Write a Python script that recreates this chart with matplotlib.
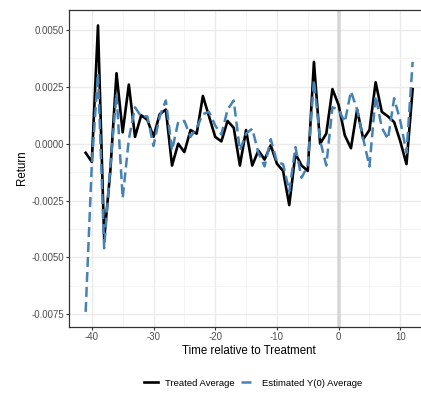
import numpy as np
import matplotlib
matplotlib.use('Agg')
import matplotlib.pyplot as plt
from matplotlib.ticker import MultipleLocator

# time relative to treatment
time = np.arange(-41, 13)

treated_avg = [-0.0004, -0.0008, 0.0052, -0.0042, -0.0012, 0.0031, 0.0005, 0.0026, 0.0003, 0.00125,
               0.00105, 0.0003, 0.0013, 0.0015, -0.00096, 0.0, -0.00037, 0.0006, 0.00044, 0.0021,
               0.0012, 0.0003, 0.0001, 0.001, 0.0007, -0.00096, 0.0006, -0.00096, -0.0003, -0.0007,
               -0.00007, -0.00088, -0.0012, -0.0027, -0.00044, -0.00096, -0.0012, 0.0036, 0.0, 0.00044,
               0.0024, 0.0017, 0.00037, -0.0002, 0.0015, 0.0002, 0.0006, 0.0027, 0.0014, 0.0012,
               0.00095, 0.0001, -0.0009, 0.0024]

estimated_y0 = [-0.0074, -0.0009, 0.0031, -0.0046, -0.0010, 0.0022, -0.0024, 0.0002, 0.0016, 0.0012,
                0.0012, -0.0001, 0.0012, 0.0019, -0.0003, 0.00096, 0.001, 0.0003, 0.0007, 0.0013,
                0.0014, 0.0008, 0.0004, 0.0015, 0.0019, -0.0003, 0.00044, 0.00066, -0.0004, -0.001,
                0.0002, -0.0008, -0.0009, -0.0021, -0.00015, -0.0015, -0.00096, 0.0028, 0.00015, -0.00096,
                0.0016, 0.0015, 0.00095, 0.0023, 0.0015, 0.0002, -0.001, 0.0021, 0.0007, 0.0002,
                0.002, 0.001, -0.0004, 0.0036]

x_ticks = [-40, -30, -20, -10, 0, 10]
y_ticks = [-0.0075, -0.0050, -0.0025, 0.0, 0.0025, 0.0050]
y_tick_labels = ['-0.0075', '-0.0050', '-0.0025', '0.0000', '0.0025', '0.0050']

plt.rcParams['font.family'] = ['Liberation Sans', 'DejaVu Sans']

W, H = 421, 394
fig = plt.figure(figsize=(W / 100, H / 100), dpi=100)
# panel runs past the right edge of the picture, as in the reference
left, right, top, bottom = 69.3, 429.0, 10.0, 326.7
ax = fig.add_axes([left / W, 1 - bottom / H, (right - left) / W, (bottom - top) / H])

ax.axvline(0, color='#d6d6d6', linewidth=2.6, zorder=1)
ax.plot(time, treated_avg, color='black', linewidth=1.9, zorder=3, label='Treated Average')
ax.plot(time, estimated_y0, color='#4682B4', linewidth=1.8, linestyle=(0, (4, 2)),
        zorder=4, label='Estimated Y(0) Average')

ax.set_xlim(-43.65, 14.65)
ax.set_ylim(-0.00805, 0.00588)
ax.set_xticks(x_ticks)
ax.set_xticklabels([str(t) for t in x_ticks])
ax.set_yticks(y_ticks)
ax.set_yticklabels(y_tick_labels)
ax.xaxis.set_minor_locator(MultipleLocator(5))
ax.yaxis.set_minor_locator(MultipleLocator(0.00125))

ax.grid(True, which='major', color='#EBEBEB', linewidth=1.0, zorder=0)
ax.grid(True, which='minor', color='#F2F2F2', linewidth=0.6, zorder=0)
ax.set_axisbelow(True)
ax.tick_params(which='major', length=2.2, width=0.8, color='#333333',
               labelsize=6.9, labelcolor='#4D4D4D', pad=1.5)
ax.tick_params(which='minor', length=0)
for sp in ax.spines.values():
    sp.set_color('#333333')
    sp.set_linewidth(0.9)

fig.text(22 / W, 1 - 168 / H, 'Return', rotation=90, ha='center', va='center', fontsize=8.3)
fig.text(248.5 / W, 1 - 350.5 / H, 'Time relative to Treatment', ha='center', va='center', fontsize=8.3)

handles, labels = ax.get_legend_handles_labels()
fig.legend(handles, labels, loc='center', bbox_to_anchor=(253 / W, 1 - 383 / H), ncol=2,
           frameon=False, fontsize=6.8, handlelength=1.5, handletextpad=0.8,
           columnspacing=0.6, borderpad=0.2)

fig.savefig('out.png', dpi=100)
